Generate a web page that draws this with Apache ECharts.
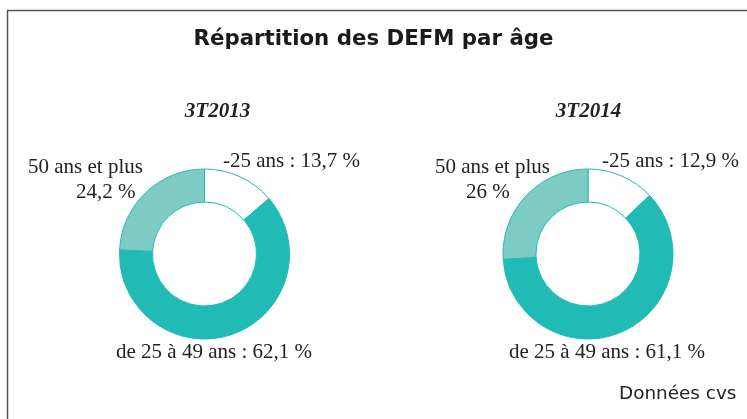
<!DOCTYPE html>
<html><head><meta charset="utf-8">
<script src="https://cdn.jsdelivr.net/npm/echarts@6/dist/echarts.min.js"></script>
<style>html,body{margin:0;padding:0;background:#fff}#c{width:747px;height:419px}</style>
</head><body><div id="c"></div>
<script>
const categories = ['-25 ans', 'de 25 à 49 ans', '50 ans et plus'];
const periods = ['3T2013', '3T2014'];
const values2013 = [13.7, 62.1, 24.2];
const values2014 = [12.9, 61.1, 26];
const chartTitle = 'Répartition des DEFM par âge';
const note = 'Données cvs';

const fmt = v => String(v).replace('.', ',');
const colors = ['#ffffff', '#20bbb4', '#7ecbc6'];
const centers = [[204.5, 254], [588, 254]];
const subtitleX = [212.5, 583.5];
// label anchor positions per pie: [-25, 25-49, 50+]
const labelPos = [
  [[223, 161], [116, 352], [28, 179.5]],
  [[602, 161], [509, 352], [435, 179.5]]
];
const secondLinePad = [48, 31];

const chart = echarts.init(document.getElementById('c'));
const series = [values2013, values2014].map((vals, s) => ({
  type: 'pie',
  center: centers[s],
  radius: [52, 85],
  startAngle: 90,
  clockwise: true,
  animation: false,
  silent: true,
  data: categories.map((c, i) => ({ name: c, value: vals[i], itemStyle: { color: colors[i] } })),
  itemStyle: { borderColor: '#20bbb4', borderWidth: 1 },
  labelLine: { show: false },
  label: {
    show: true,
    overflow: 'none',
    width: 400,
    fontFamily: 'Liberation Serif',
    fontSize: 21,
    color: '#222',
    lineHeight: 25,
    formatter: p => p.dataIndex === 2
      ? '{n|' + p.name + '}\n{v|' + fmt(p.value) + ' %}'
      : p.name + ' : ' + fmt(p.value) + ' %',
    rich: {
      n: { fontFamily: 'Liberation Serif', fontSize: 21, color: '#222', lineHeight: 25 },
      v: { fontFamily: 'Liberation Serif', fontSize: 21, color: '#222', lineHeight: 25, padding: [0, 0, 0, secondLinePad[s]] }
    }
  },
  labelLayout: p => ({
    x: labelPos[s][p.dataIndex][0],
    y: labelPos[s][p.dataIndex][1],
    align: 'left',
    verticalAlign: 'middle',
    hideOverlap: false
  })
}));

chart.setOption({
  backgroundColor: '#fff',
  animation: false,
  title: [
    { text: chartTitle, left: 368.5, textAlign: 'center', top: 24,
      textStyle: { fontFamily: 'DejaVu Sans', fontWeight: 'bold', fontSize: 21.3, color: '#1a1a1a' } },
    { text: periods[0], left: subtitleX[0], textAlign: 'center', top: 96,
      textStyle: { fontFamily: 'Liberation Serif', fontStyle: 'italic', fontWeight: 'bold', fontSize: 21, color: '#222' } },
    { text: periods[1], left: subtitleX[1], textAlign: 'center', top: 96,
      textStyle: { fontFamily: 'Liberation Serif', fontStyle: 'italic', fontWeight: 'bold', fontSize: 21, color: '#222' } },
    { text: note, left: 614, top: 380,
      textStyle: { fontFamily: 'DejaVu Sans', fontWeight: 'normal', fontSize: 18.4, color: '#222' } }
  ],
  graphic: [
    { type: 'rect', shape: { x: 7.5, y: 10.5, width: 800, height: 500 }, style: { fill: 'none', stroke: '#555', lineWidth: 1.5 }, silent: true }
  ],
  series: series
});
</script></body></html>
